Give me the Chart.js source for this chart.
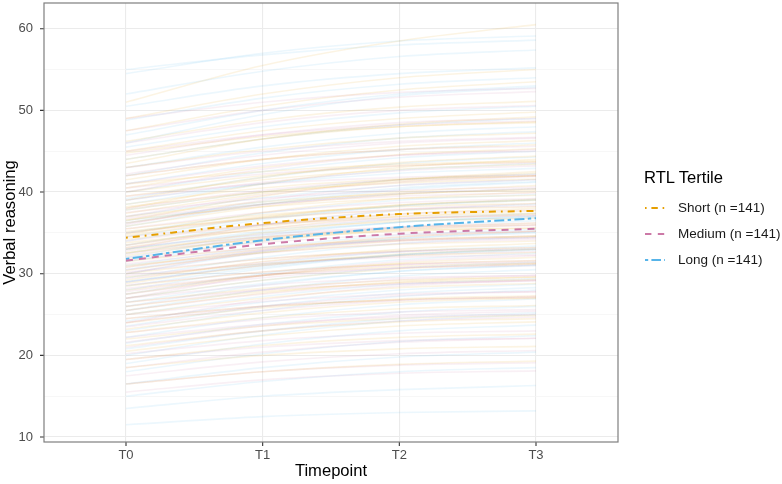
<!DOCTYPE html>
<html>
<head>
<meta charset="utf-8">
<script src="https://cdn.jsdelivr.net/npm/chart.js@4.4.0/dist/chart.umd.min.js"></script>
<style>
  html, body { margin: 0; padding: 0; background: #fff; }
  #wrap { position: relative; width: 782px; height: 484px; font-family: "Liberation Sans", Arial, sans-serif; }
  canvas { position: absolute; left: 0; top: 0; }
  .lg-title { position: absolute; left: 644px; top: 168px; font-size: 16.6px; color: #000; white-space: nowrap; }
  .lg-item { position: absolute; left: 678px; font-size: 13.5px; color: #1a1a1a; white-space: nowrap; line-height: 16px; }
  svg.key { position: absolute; left: 643px; width: 24px; height: 10px; }
</style>
</head>
<body>
<div id="wrap">
  <canvas id="c" width="782" height="484"></canvas>
  <div class="lg-title">RTL Tertile</div>
  <svg class="key" style="top:203px"><line x1="2" y1="5" x2="22" y2="5" stroke="#E69F00" stroke-width="2" stroke-dasharray="1.6,4.8,6.4,4.8"/></svg>
  <div class="lg-item" style="top:200px">Short (n =141)</div>
  <svg class="key" style="top:229px"><line x1="2" y1="5" x2="22" y2="5" stroke="#CC79A7" stroke-width="2" stroke-dasharray="6.4,6.4"/></svg>
  <div class="lg-item" style="top:226px">Medium (n =141)</div>
  <svg class="key" style="top:255px"><line x1="2" y1="5" x2="22" y2="5" stroke="#56B4E9" stroke-width="2" stroke-dasharray="3.2,3.2,9.6,3.2"/></svg>
  <div class="lg-item" style="top:252px">Long (n =141)</div>
</div>
<script>
// ---- data ----
const timepoints = ["T0", "T1", "T2", "T3"];
const yTickValues = [10, 15, 20, 25, 30, 35, 40, 45, 50, 55, 60];

const meanShort  = [34.4, 36.2, 37.3, 37.7];
const meanMedium = [31.6, 33.6, 34.9, 35.5];
const meanLong   = [31.8, 34.1, 35.7, 36.8];

const indivShort = [
  [51.0,55.5,58.5,60.5],[47.5,50.5,52.5,53.5],[45.0,47.5,49.0,49.8],[43.5,46.5,48.3,49.2],
  [42.0,44.0,45.2,45.8],[40.5,43.0,44.6,45.3],[39.5,41.5,42.8,43.4],[38.5,40.5,41.6,42.0],
  [37.8,40.0,41.5,42.3],[37.0,38.8,39.8,40.2],[36.2,38.5,40.0,40.8],[35.5,37.2,38.2,38.6],
  [35.0,37.0,38.4,39.0],[34.2,36.0,37.0,37.4],[33.5,35.8,37.3,38.0],[33.0,34.5,35.3,35.6],
  [32.2,34.3,35.6,36.2],[31.5,33.2,34.2,34.6],[30.8,33.0,34.5,35.2],[30.0,31.8,32.8,33.2],
  [29.2,31.5,33.0,33.7],[28.5,30.2,31.2,31.6],[27.5,29.8,31.3,32.0],[26.5,28.2,29.2,29.6],
  [25.5,27.6,29.0,29.6],[24.5,26.0,26.8,27.1],[23.2,25.2,26.5,27.0],[22.0,23.6,24.5,24.9],
  [20.5,22.4,23.6,24.1],[18.5,20.0,20.8,21.1],[38.0,41.0,43.0,44.0],[41.0,42.5,43.4,43.8],
  [44.0,46.5,48.0,48.6],[36.5,39.5,41.5,42.5],[34.8,37.5,39.2,40.0],[32.5,35.0,36.6,37.3],
  [49.0,52.0,54.0,55.0],[46.2,48.8,50.4,51.1],[44.8,46.8,48.0,48.5],[43.0,45.2,46.6,47.2],
  [41.5,44.0,45.6,46.3],[40.0,42.0,43.2,43.7],[39.0,41.8,43.6,44.4],[38.2,40.0,41.1,41.6],
  [37.4,39.8,41.3,42.0],[36.6,38.2,39.2,39.6],[35.8,38.2,39.7,40.4],[35.2,36.8,37.8,38.2],
  [34.6,36.9,38.4,39.1],[33.8,35.4,36.4,36.8],[33.2,35.5,37.0,37.7],[32.6,34.2,35.2,35.6],
  [31.8,34.0,35.4,36.0],[31.0,32.6,33.6,34.0],[30.4,32.6,34.0,34.6],[29.6,31.2,32.2,32.6],
  [28.8,31.0,32.4,33.0],[28.0,29.8,30.9,31.3],[27.0,29.2,30.6,31.2],[26.0,27.8,28.9,29.3],
  [25.0,27.0,28.3,28.8],[24.0,25.8,26.9,27.3],[22.8,24.6,25.7,26.1],[21.2,23.0,24.1,24.5],
  [19.5,21.2,22.2,22.6],[16.5,18.0,18.9,19.3]
];
const indivMedium = [
  [49.0,51.0,52.2,52.7],[46.0,48.5,50.0,50.6],[43.0,45.0,46.2,46.7],[41.0,43.2,44.5,45.0],
  [39.5,41.0,41.8,42.1],[38.0,40.2,41.5,42.0],[36.8,38.5,39.5,39.9],[35.5,37.5,38.7,39.2],
  [34.5,36.0,36.8,37.1],[33.5,35.5,36.7,37.2],[32.8,34.5,35.5,35.9],[32.0,33.8,34.8,35.2],
  [31.2,33.0,34.0,34.4],[30.5,32.5,33.7,34.2],[29.8,31.2,32.0,32.3],[29.0,31.0,32.2,32.7],
  [28.2,29.8,30.7,31.0],[27.5,29.5,30.7,31.2],[26.5,28.0,28.8,29.1],[25.5,27.5,28.7,29.2],
  [24.5,26.0,26.8,27.1],[23.5,25.5,26.7,27.2],[22.2,23.8,24.7,25.0],[21.0,23.0,24.2,24.7],
  [19.5,21.0,21.8,22.1],[17.5,19.2,20.2,20.6],[15.5,17.0,17.8,18.1],[36.0,39.0,40.8,41.5],
  [33.0,36.0,37.8,38.6],[30.0,32.8,34.5,35.2],[27.0,29.8,31.5,32.2],[24.0,26.8,28.5,29.2],
  [40.0,42.8,44.5,45.2],[44.5,47.0,48.5,49.0],
  [47.5,50.0,51.6,52.3],[45.0,47.0,48.2,48.7],[42.2,44.5,46.0,46.6],[40.5,42.2,43.2,43.6],
  [39.0,41.2,42.6,43.2],[37.5,39.2,40.2,40.6],[36.2,38.4,39.8,40.4],[35.0,36.8,37.9,38.3],
  [34.0,36.0,37.3,37.8],[33.2,34.8,35.7,36.0],[32.4,34.4,35.7,36.2],[31.6,33.2,34.1,34.4],
  [30.8,32.8,34.1,34.6],[30.2,31.8,32.7,33.0],[29.4,31.4,32.7,33.2],[28.6,30.2,31.1,31.4],
  [27.8,29.8,31.1,31.6],[27.0,28.6,29.5,29.8],[26.0,28.0,29.3,29.8],[25.0,26.6,27.5,27.8],
  [24.0,26.0,27.3,27.8],[22.8,24.4,25.3,25.6],[21.6,23.6,24.9,25.4],[20.2,21.8,22.7,23.0],
  [18.5,20.4,21.6,22.1],[16.5,18.0,18.8,19.1],[42.0,44.0,45.2,45.6],[37.0,39.6,41.2,41.9]
];
const indivLong = [
  [54.5,57.0,58.5,59.1],[50.5,53.0,54.5,55.2],[47.0,50.0,52.0,53.0],[44.0,46.5,48.2,49.0],
  [42.0,44.8,46.6,47.4],[40.0,42.5,44.2,45.0],[38.5,41.0,42.7,43.5],[37.0,39.3,40.8,41.5],
  [35.8,38.5,40.3,41.2],[34.5,36.8,38.3,39.0],[33.5,36.0,37.7,38.5],[32.5,34.8,36.3,37.0],
  [31.5,34.0,35.7,36.5],[30.5,32.8,34.3,35.0],[29.5,32.0,33.7,34.5],[28.5,30.8,32.3,33.0],
  [27.5,30.0,31.7,32.5],[26.5,28.8,30.3,31.0],[25.5,28.0,29.7,30.5],[24.2,26.5,28.0,28.7],
  [23.0,25.5,27.2,28.0],[21.5,23.8,25.3,26.0],[20.0,22.5,24.2,25.0],[18.0,20.2,21.7,22.4],
  [13.5,15.0,15.8,16.3],[11.5,12.5,13.0,13.2],[36.5,38.5,39.8,40.4],[33.0,35.0,36.3,36.9],
  [29.0,31.0,32.3,32.9],[39.0,41.0,42.3,42.9],
  [52.0,54.8,56.6,57.4],[48.8,51.5,53.2,54.0],[45.5,48.0,49.7,50.5],[43.0,45.5,47.2,48.0],
  [41.0,43.5,45.2,46.0],[39.2,41.8,43.5,44.3],[37.8,40.0,41.5,42.2],[36.2,38.8,40.5,41.3],
  [35.0,37.4,39.0,39.7],[34.0,36.6,38.3,39.1],[33.0,35.2,36.7,37.4],[32.0,34.6,36.3,37.1],
  [31.0,33.2,34.7,35.4],[30.0,32.6,34.3,35.1],[29.0,31.2,32.7,33.4],[28.0,30.6,32.3,33.1],
  [27.0,29.2,30.7,31.4],[26.0,28.6,30.3,31.1],[25.0,27.2,28.7,29.4],[23.6,26.0,27.6,28.3],
  [22.2,24.6,26.2,26.9],[20.8,23.0,24.5,25.2],[19.0,21.4,23.0,23.7],[16.5,18.5,19.8,20.4],
  [15.0,16.8,18.0,18.5],[55.0,56.8,58.0,58.6],[46.0,49.5,51.8,52.8]
];

// ---- build ----
const toPts = arr => arr.map((v, i) => ({ x: i, y: v }));
const datasets = [];
function meanDs(vals, color, dash) {
  return { data: toPts(vals), borderColor: color, borderWidth: 2, borderDash: dash,
    pointRadius: 0, cubicInterpolationMode: 'monotone', fill: false, order: 0 };
}
datasets.push(meanDs(meanShort, '#E69F00', [1.8, 5, 7, 5]));
datasets.push(meanDs(meanMedium, '#CC79A7', [7, 6]));
datasets.push(meanDs(meanLong, '#56B4E9', [3.4, 3.4, 10, 3.4]));
function addIndiv(list, rgb) {
  list.forEach(vals => datasets.push({ data: toPts(vals), borderColor: 'rgba(' + rgb + ',0.11)',
    borderWidth: 1.6, pointRadius: 0, cubicInterpolationMode: 'monotone', fill: false, order: 1 }));
}
addIndiv(indivShort, '230,159,0');
addIndiv(indivMedium, '204,121,167');
addIndiv(indivLong, '86,180,233');

const FONT = "'Liberation Sans', Arial, sans-serif";

const panelPlugin = {
  id: 'panel',
  afterDraw(chart) {
    const { ctx, chartArea: a, scales } = chart;
    ctx.save();
    ctx.strokeStyle = '#333333';
    ctx.lineWidth = 1.1;
    ctx.beginPath();
    yTickValues.filter(v => v % 10 === 0).forEach(v => {
      const y = scales.y.getPixelForValue(v);
      ctx.moveTo(a.left - 4, y); ctx.lineTo(a.left, y);
    });
    timepoints.forEach((t, i) => {
      const x = scales.x.getPixelForValue(i);
      ctx.moveTo(x, a.bottom); ctx.lineTo(x, a.bottom + 4);
    });
    ctx.stroke();
    ctx.strokeStyle = '#7f7f7f';
    ctx.lineWidth = 1.2;
    ctx.strokeRect(a.left, a.top, a.right - a.left, a.bottom - a.top);
    ctx.restore();
  }
};

new Chart(document.getElementById('c'), {
  type: 'line',
  data: { datasets },
  plugins: [panelPlugin],
  options: {
    responsive: false,
    animation: false,
    layout: { padding: { left: 0, top: 3, right: 164, bottom: 0 } },
    plugins: { legend: { display: false }, tooltip: { enabled: false } },
    scales: {
      x: {
        type: 'linear', min: -0.6, max: 3.6,
        afterBuildTicks: s => { s.ticks = timepoints.map((t, i) => ({ value: i })); },
        afterFit: s => { s.height = 42; s.paddingLeft = 0; s.paddingRight = 0; },
        ticks: { callback: v => timepoints[v], color: '#4D4D4D', font: { family: FONT, size: 13 }, padding: 6, maxRotation: 0 },
        grid: { color: '#EBEBEB', lineWidth: 1.1, drawTicks: false },
        border: { display: false },
        title: { display: true, text: 'Timepoint', color: '#000', font: { family: FONT, size: 16.6 }, padding: { top: 0, bottom: 3 } }
      },
      y: {
        type: 'linear', min: 9.39, max: 63.15,
        afterBuildTicks: s => { s.ticks = yTickValues.map(v => ({ value: v })); },
        afterFit: s => { s.width = 44; s.paddingTop = 0; s.paddingBottom = 0; },
        ticks: { callback: v => (v % 10 === 0 ? v : ''), color: '#4D4D4D', font: { family: FONT, size: 13 }, padding: 11 },
        grid: {
          color: c => (c.tick && c.tick.value % 10 === 0 ? '#EBEBEB' : '#F3F3F3'),
          lineWidth: c => (c.tick && c.tick.value % 10 === 0 ? 1.1 : 0.7),
          drawTicks: false
        },
        border: { display: false },
        title: { display: true, text: 'Verbal reasoning', color: '#000', font: { family: FONT, size: 16.6 }, padding: { top: 0, bottom: 0 } }
      }
    }
  }
});
</script>
</body>
</html>
